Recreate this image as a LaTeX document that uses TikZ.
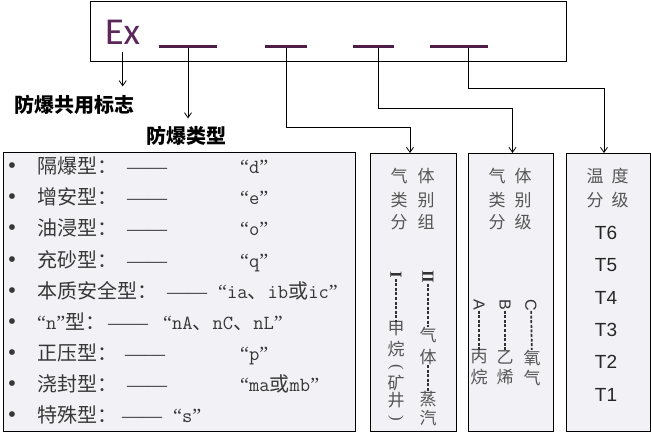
\documentclass[tikz,border=0pt]{standalone}
\usepackage{fontspec}
\setmainfont{Liberation Serif}
\newfontfamily\cjk{Noto Sans CJK SC}
\newfontfamily\carl{Carlito}
\newfontfamily\arialf{Liberation Sans}
\usetikzlibrary{arrows.meta}
\definecolor{boxfill}{RGB}{242,241,245}
\definecolor{expurple}{RGB}{92,40,92}
\definecolor{ulpurple}{RGB}{78,30,72}
\definecolor{txtgrey}{RGB}{55,55,55}
\definecolor{headgrey}{RGB}{85,85,85}
\definecolor{dashgrey}{RGB}{50,50,50}
\newcommand{\latn}[1]{{\ttfamily #1}}
\newcommand{\qopen}{{\rmfamily “}}
\newcommand{\qclose}{{\rmfamily ”}}
\newcommand{\dashpair}{{\rmfamily ——}}
\begin{document}
\begin{tikzpicture}[x=1pt,y=-1pt,
  panel/.style={draw=black, line width=0.9pt, fill=boxfill, inner sep=0pt, outer sep=0pt, anchor=north west},
  topframe/.style={draw=black, line width=0.9pt, fill=white, inner sep=0pt, outer sep=0pt, anchor=north west},
  ul/.style={fill=ulpurple, draw=none, minimum height=3pt, inner sep=0pt, outer sep=0pt},
  arr/.style={draw=black, line width=0.8pt, -{Straight Barb[length=5pt,width=7pt]}},
  ttl/.style={font=\cjk\bfseries\fontsize{20}{24}\selectfont, inner sep=0pt, text=black},
  bul/.style={font=\fontsize{24}{24}\selectfont, inner sep=0pt, text=txtgrey},
  row/.style={anchor=west, inner sep=0pt, text=txtgrey, text height=15pt, text depth=4pt, font=\cjk\fontsize{20}{24}\selectfont},
  hch/.style={font=\cjk\fontsize{17}{20}\selectfont, text=headgrey, inner sep=0pt},
  rotl/.style={rotate=-90, inner sep=0pt, font=\bfseries\fontsize{17}{20}\selectfont, text=dashgrey},
  rotp/.style={rotate=-90, inner sep=0pt, font=\fontsize{17}{20}\selectfont, text=headgrey},
  rots/.style={rotate=-90, inner sep=0pt, font=\arialf\fontsize{16}{20}\selectfont, text=dashgrey},
  vdash/.style={draw=dashgrey, line width=1.7pt, dash pattern=on 3pt off 1.6pt},
  tl/.style={font=\arialf\fontsize{19}{22}\selectfont, text=black!85, inner sep=0pt}
]
\useasboundingbox (0,0) rectangle (651,433);

% top frame
\node[topframe, minimum width=476pt, minimum height=60pt] (topbox) at (90,1) {};
\node[font=\carl\fontsize{38}{40}\selectfont, text=expurple, inner sep=0pt, anchor=base west] (ex) at (105,45) {Ex};
\node[ul, minimum width=58pt] (u1) at (188,47) {};
\node[ul, minimum width=42pt] (u2) at (286,47) {};
\node[ul, minimum width=41pt] (u3) at (373,47) {};
\node[ul, minimum width=58pt] (u4) at (459,47) {};

% titles
\node[ttl, outer ysep=9pt] (lbl1) at (75,105) {防爆共用标志};
\node[ttl, outer ysep=8pt] (lbl2) at (186,136) {防爆类型};

% panels
\node[panel, minimum width=352pt, minimum height=279pt] (left) at (3,152) {};
\node[panel, minimum width=86pt, minimum height=278pt] (box2) at (370,153) {};
\node[panel, minimum width=85pt, minimum height=278pt] (box3) at (468,153) {};
\node[panel, minimum width=84pt, minimum height=278pt] (box4) at (566,153) {};

% connectors
\draw[arr] ([yshift=-7pt]ex.south) -- (ex.south |- lbl1.north);
\draw[arr] (u1.south) -- (u1.south |- lbl2.north);
\draw[arr] (u2.south) -- ++(0,78.5) -| ([xshift=-3pt]box2.north);
\draw[arr] ([xshift=5pt]u3.south) -- ++(0,59.5) -| ([xshift=2pt]box3.north);
\draw[arr] ([xshift=9pt]u4.south) -- ++(0,39.5) -| ([xshift=-4pt]box4.north);

% left panel rows
\foreach \i/\y/\nm/\dx/\vx/\val in {
  1/168/{隔爆型：}/127/240/{\qopen\latn{d}\qclose},
  2/199/{增安型：}/127/240/{\qopen\latn{e}\qclose},
  3/230/{油浸型：}/127/240/{\qopen\latn{o}\qclose},
  4/262/{充砂型：}/127/240/{\qopen\latn{q}\qclose},
  5/293/{本质安全型：}/167/218/{\qopen\latn{ia}、\latn{ib}或\latn{ic}\qclose},
  6/324/{\qopen\latn{n}\qclose 型：}/108/163/{\qopen\latn{nA}、\latn{nC}、\latn{nL}\qclose},
  7/355/{正压型：}/125/240/{\qopen\latn{p}\qclose},
  8/386/{浇封型：}/127/240/{\qopen\latn{ma}或\latn{mb}\qclose},
  9/417/{特殊型：}/122/173/{\qopen\latn{s}\qclose}}{
  \node[bul] (b\i) at (12,\y) {•};
  \node[row] (n\i) at (37,\y) {\nm};
  \node[row] (d\i) at (\dx,\y) {\dashpair};
  \node[row] (v\i) at (\vx,\y) {\val};
}

% box 2 heading
\node[hch] (h2a) at (399,176) {气};
\node[hch] (h2b) at (426,176) {体};
\node[hch] (h2c) at (399,200) {类};
\node[hch] (h2d) at (426,200) {别};
\node[hch] (h2e) at (399,222) {分};
\node[hch] (h2f) at (426,222) {组};
% box 2 vertical text
\node[rotl] (r1) at (396,275) {I};
\node[hch] (c1a) at (396,329) {甲};
\node[hch] (c1b) at (396,349) {烷};
\node[rotp] (c1c) at (396,367) {(};
\node[hch] (c1d) at (396,383) {矿};
\node[hch] (c1e) at (396,400) {井};
\node[rotp] (c1f) at (396,418) {)};
\draw[vdash] (r1) -- (c1a);
\node[rotl] (r2) at (428,277) {II};
\node[hch] (c2a) at (428,335) {气};
\node[hch] (c2b) at (428,357) {体};
\node[hch] (c2c) at (428,399) {蒸};
\node[hch] (c2d) at (428,418) {汽};
\draw[vdash] (r2) -- (c2a);
\draw[vdash] (c2b) -- (c2c);

% box 3 heading
\node[hch] (h3a) at (497,176) {气};
\node[hch] (h3b) at (523,176) {体};
\node[hch] (h3c) at (497,200) {类};
\node[hch] (h3d) at (523,200) {别};
\node[hch] (h3e) at (497,222) {分};
\node[hch] (h3f) at (523,222) {级};
% box 3 vertical text
\node[rots] (ga) at (479,305) {A};
\node[hch] (ga1) at (479,357) {丙};
\node[hch] (ga2) at (479,377) {烷};
\draw[vdash] (ga) -- (ga1);
\node[rots] (gb) at (505,305) {B};
\node[hch] (gb1) at (505,357) {乙};
\node[hch] (gb2) at (505,377) {烯};
\draw[vdash] (gb) -- (gb1);
\node[rots] (gc) at (531,305) {C};
\node[hch] (gc1) at (532,358) {氧};
\node[hch] (gc2) at (532,378) {气};
\draw[vdash] (gc) -- (gc1);

% box 4
\node[hch] (h4a) at (595,176) {温};
\node[hch] (h4b) at (620,176) {度};
\node[hch] (h4c) at (595,200) {分};
\node[hch] (h4d) at (620,200) {级};
\node[tl] (t6) at (606,233) {T6};
\node[tl] (t5) at (606,265) {T5};
\node[tl] (t4) at (606,298) {T4};
\node[tl] (t3) at (606,330) {T3};
\node[tl] (t2) at (606,362) {T2};
\node[tl] (t1) at (606,395) {T1};
\end{tikzpicture}
\end{document}
